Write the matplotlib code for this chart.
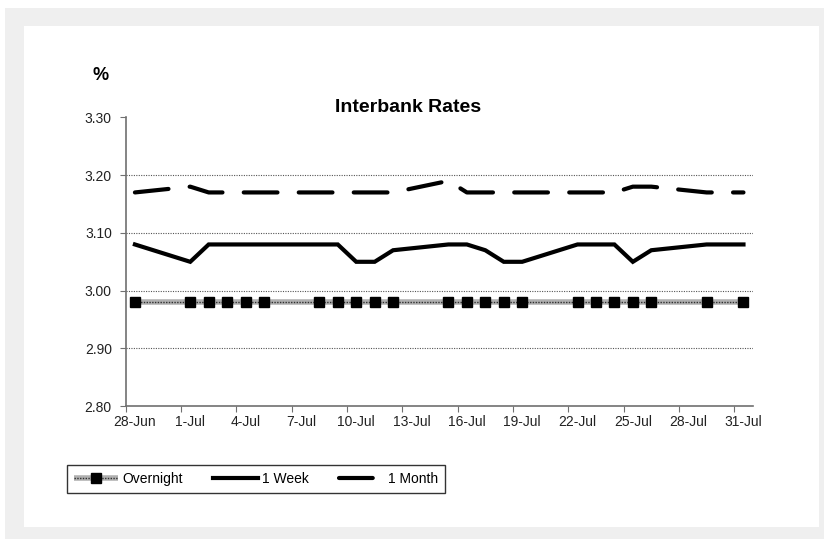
import numpy as np
import pandas as pd
import matplotlib
matplotlib.use('Agg')
import matplotlib.pyplot as plt
import matplotlib.dates as mdates
from matplotlib.patches import Rectangle
from matplotlib.legend_handler import HandlerTuple

plt.rcParams['font.family'] = ['Liberation Sans', 'DejaVu Sans']

# --- data (business days, 2013) ---
dates = ['28-Jun', '1-Jul', '2-Jul', '3-Jul', '4-Jul', '5-Jul', '8-Jul', '9-Jul',
         '10-Jul', '11-Jul', '12-Jul', '15-Jul', '16-Jul', '17-Jul', '18-Jul',
         '19-Jul', '22-Jul', '23-Jul', '24-Jul', '25-Jul', '26-Jul', '29-Jul',
         '30-Jul', '31-Jul']
overnight = [2.98, 2.98, 2.98, 2.98, 2.98, 2.98, 2.98, 2.98, 2.98, 2.98, 2.98, 2.98,
             2.98, 2.98, 2.98, 2.98, 2.98, 2.98, 2.98, 2.98, 2.98, 2.98, np.nan, 2.98]
week = [3.08, 3.05, 3.08, 3.08, 3.08, 3.08, 3.08, 3.08, 3.05, 3.05, 3.07, 3.08,
        3.08, 3.07, 3.05, 3.05, 3.08, 3.08, 3.08, 3.05, 3.07, 3.08, 3.08, 3.08]
month = [3.17, 3.18, 3.17, 3.17, 3.17, 3.17, 3.17, 3.17, 3.17, 3.17, 3.17, 3.19,
         3.17, 3.17, 3.17, 3.17, 3.17, 3.17, 3.17, 3.18, 3.18, 3.17, 3.17, 3.17]
tick_labels = ['28-Jun', '1-Jul', '4-Jul', '7-Jul', '10-Jul', '13-Jul', '16-Jul',
               '19-Jul', '22-Jul', '25-Jul', '28-Jul', '31-Jul']
yticks = [2.80, 2.90, 3.00, 3.10, 3.20, 3.30]

W, H = 824, 539
fig = plt.figure(figsize=(W / 100, H / 100), dpi=100, facecolor='#efefef')

# frame: white panel on light grey (behind the axes)
for xy, w, h in [((24 / W, 12 / H), 795 / W, 501 / H),
                 ((0, 1 - 8 / H), 1, 8 / H),
                 ((0, 0), 5 / W, 1)]:
    fig.patches.append(Rectangle(xy, w, h, transform=fig.transFigure,
                                 facecolor='white', edgecolor='none', zorder=-5))

ax = fig.add_axes([125.7 / W, 1 - 406.3 / H, 627 / W, 289 / H])
ax.set_facecolor('none')

x = mdates.date2num(pd.to_datetime([d + '-2013' for d in dates], format='%d-%b-%Y')) + 0.5
ov = np.array(overnight)
m = ~np.isnan(ov)

for g in [2.90, 3.00, 3.10, 3.20]:
    ax.axhline(g, color='#555555', lw=0.8, ls=(0, (1, 1.2)), zorder=1)

l_ov1, = ax.plot(x[m], ov[m], color='#b0b0b0', lw=4, zorder=2, solid_capstyle='butt')
l_ov2, = ax.plot(x[m], ov[m], color='#303030', lw=1, ls=(0, (1, 1)), zorder=3)
l_ov3, = ax.plot(x[m], ov[m], ls='none', marker='s', ms=7, color='black', zorder=4)
l_wk, = ax.plot(x, week, color='black', lw=3, zorder=3, solid_joinstyle='miter')
l_mo, = ax.plot(x, month, color='black', lw=3, ls=(0, (8.1, 5.1)),
                dash_capstyle='round', zorder=3)

x0 = mdates.date2num(pd.Timestamp('2013-06-28'))
ax.set_xlim(x0, x0 + 34)
ax.set_ylim(2.80, 3.30)
ax.set_yticks(yticks)
ax.set_yticklabels([f'{v:.2f}' for v in yticks])

major = [x0 + 3 * i for i in range(len(tick_labels))]
ax.set_xticks(major)
ax.set_xticklabels([])
ax.set_xticks([v + 0.5 for v in major], minor=True)
ax.set_xticklabels(tick_labels, minor=True)
ax.tick_params(axis='x', which='major', direction='out', length=4, color='#707070')
ax.tick_params(axis='x', which='minor', length=0, pad=6, labelsize=10, labelcolor='#222222')
ax.tick_params(axis='y', direction='out', length=4, color='#707070', labelsize=10,
               labelcolor='#222222', pad=6)

for s in ['top', 'right']:
    ax.spines[s].set_visible(False)
for s in ['left', 'bottom']:
    ax.spines[s].set_color('#707070')
    ax.spines[s].set_linewidth(1.2)

fig.text(408 / W, 1 - 107 / H, 'Interbank Rates', ha='center', va='center',
         fontsize=14, fontweight='bold')
fig.text(101 / W, 1 - 75 / H, '%', ha='center', va='center', fontsize=13, fontweight='bold')

leg = fig.legend([(l_ov1, l_ov2, l_ov3), l_wk, l_mo], ['Overnight', '1 Week', '1 Month'],
                 handler_map={tuple: HandlerTuple(ndivide=1, pad=0)},
                 loc='center', bbox_to_anchor=(256 / W, 1 - 479 / H), ncol=3,
                 fancybox=False, framealpha=1, edgecolor='#333333', fontsize=10,
                 handlelength=3.2, handletextpad=0.3, columnspacing=2.2,
                 borderpad=0.5)
leg.get_frame().set_linewidth(1.0)

fig.savefig('out.png', dpi=100, facecolor=fig.get_facecolor())
